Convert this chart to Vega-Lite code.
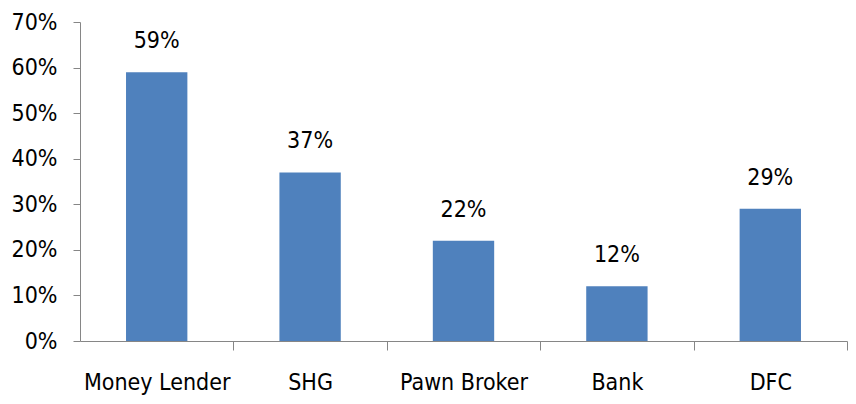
{
  "$schema": "https://vega.github.io/schema/vega-lite/v6.json",
  "width": 767,
  "height": 319,
  "autosize": {"type": "none"},
  "padding": {"left": 80, "top": 22, "right": 9, "bottom": 63},
  "background": "white",
  "config": {"view": {"stroke": null}, "font": "DejaVu Sans Condensed"},
  "data": {"values": [
    {"source": "Money Lender", "share": 0.59},
    {"source": "SHG", "share": 0.37},
    {"source": "Pawn Broker", "share": 0.22},
    {"source": "Bank", "share": 0.12},
    {"source": "DFC", "share": 0.29}
  ]},
  "encoding": {
    "x": {"field": "source", "type": "nominal", "sort": null,
      "scale": {"paddingInner": 0.6, "paddingOuter": 0.3},
      "axis": {"title": null, "labelAngle": 0, "labelFontSize": 23, "labelColor": "black",
        "labelPadding": 21, "domainColor": "#868686", "tickColor": "#868686",
        "tickOffset": 76.7, "labelOffset": -76.7, "tickSize": 9, "labelFont": "DejaVu Sans Condensed"}},
    "y": {"field": "share", "type": "quantitative",
      "scale": {"domain": [0, 0.7]},
      "axis": {"title": null, "format": ".0%", "values": [0, 0.1, 0.2, 0.3, 0.4, 0.5, 0.6, 0.7],
        "grid": false, "labelFontSize": 23, "labelColor": "black", "labelPadding": 16,
        "domainColor": "#868686", "tickColor": "#868686", "tickSize": 7,
        "labelFont": "DejaVu Sans Condensed"}}
  },
  "layer": [
    {"mark": {"type": "bar", "color": "#4F81BD"}},
    {"mark": {"type": "text", "baseline": "bottom", "dy": -19, "fontSize": 23, "color": "black", "font": "DejaVu Sans Condensed"},
      "encoding": {"text": {"field": "share", "type": "quantitative", "format": ".0%"}}}
  ]
}
